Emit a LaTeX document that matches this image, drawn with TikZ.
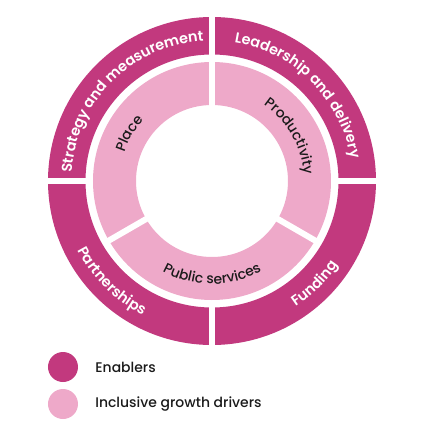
\documentclass[tikz,border=0pt]{standalone}
\usepackage{fontspec}
\setmainfont{Poppins}
\newfontfamily\popmedium{Poppins Medium}
\newfontfamily\popsemi{Poppins SemiBold}
\usepackage{tikz}
\usetikzlibrary{decorations.text,positioning}
\definecolor{Enabler}{HTML}{C2397E}
\definecolor{Driver}{HTML}{EEA9C9}
\definecolor{Ink}{HTML}{1A1A1A}
\tikzset{
  gapline/.style={white,line width=6bp},
  outerlabel/.style={decorate,decoration={text along path,text align=center,
    text color=white,text={|\popsemi\fontsize{14.5}{16}\selectfont|#1}}},
  innerlabel/.style={decorate,decoration={text along path,text align=center,
    text color=Ink,text={|\popmedium\fontsize{14}{16}\selectfont|#1}}},
  legenddot/.style={circle,minimum size=30bp,inner sep=0pt},
  legendtext/.style={font=\popmedium\fontsize{14}{16}\selectfont,text=Ink,inner sep=0pt}
}

\begin{document}
\begin{tikzpicture}[x=1bp,y=1bp]
  \useasboundingbox (-212,-250) rectangle (219,181);
  % rings
  \fill[Enabler,even odd rule] (0,0) circle[radius=164] circle[radius=126.5];
  \fill[Driver,even odd rule] (0,0) circle[radius=119] circle[radius=76];
  \foreach \a in {90,180,270,360} \draw[gapline] (\a:122) -- (\a:170);
  \foreach \a in {90,210,330} \draw[gapline] (\a:70) -- (\a:123);
  % enablers
  \path[outerlabel=Strategy and measurement] (200:140.5) arc[start angle=200,end angle=70,radius=140.5];
  \path[outerlabel=Leadership and delivery] (100:140.5) arc[start angle=100,end angle=-10,radius=140.5];
  \path[outerlabel=Partnerships] (180:151) arc[start angle=180,end angle=270,radius=151];
  \path[outerlabel=Funding] (-90:151) arc[start angle=-90,end angle=0,radius=151];
  % drivers
  \path[innerlabel=Place] (200:92) arc[start angle=200,end angle=100,radius=92];
  \path[innerlabel=Productivity] (80:92) arc[start angle=80,end angle=-20,radius=92];
  \path[innerlabel=Public services] (220:103) arc[start angle=220,end angle=320,radius=103];
  % legend
  \node[legenddot,fill=Enabler] (enablers) at (-149,-186) {};
  \node[legendtext,right=17bp of enablers] (enablerstext) {Enablers};
  \node[legenddot,fill=Driver] (drivers) at (-149,-223) {};
  \node[legendtext,right=17bp of drivers] (driverstext) {Inclusive growth drivers};
\end{tikzpicture}
\end{document}
